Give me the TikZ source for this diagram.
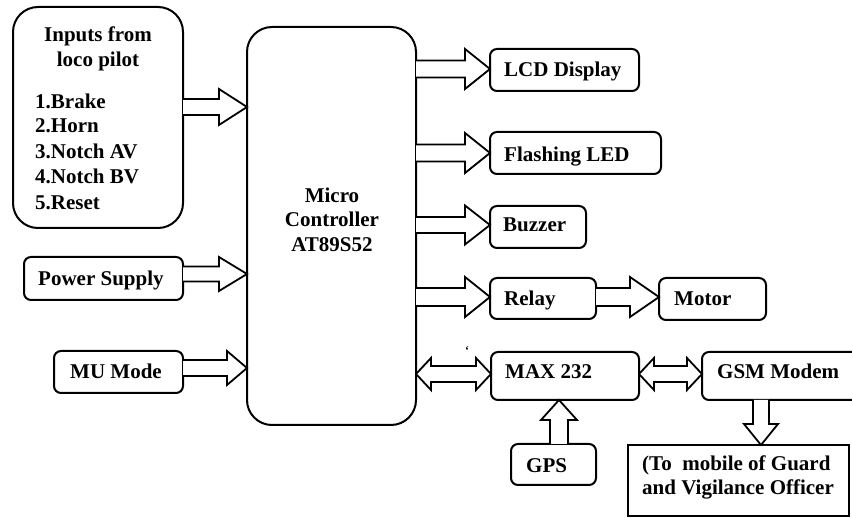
\documentclass[tikz,border=0pt]{standalone}
\usepackage{fontspec}
\setmainfont{Liberation Serif}
\usetikzlibrary{calc}
\tikzset{
  box/.style={draw, line width=2pt, rounded corners=7pt, outer sep=0pt, inner sep=0pt, fill=white},
  bigbox/.style={box, rounded corners=25pt},
  sqbox/.style={box, rounded corners=0pt},
  txt/.style={inner sep=0pt, anchor=base west, font=\bfseries\fontsize{21}{25}\selectfont},
  ctxt/.style={txt, anchor=base},
  arr/.style={draw, fill=white, line width=1.8pt, line join=miter},
}
% right block arrow: from node #1 to node #2 at y=#3, shaft half #4, head half #5, head length #6
\newcommand\rarr[6]{%
  \coordinate (ya) at (0,#3);
  \coordinate (S) at (#1.east |- ya);
  \coordinate (E) at (#2.west |- ya);
  \draw[arr] ($(S)+(0,-#4)$) -- ($(E)+(-#6,-#4)$) -- ($(E)+(-#6,-#5)$) -- (E)
    -- ($(E)+(-#6,#5)$) -- ($(E)+(-#6,#4)$) -- ($(S)+(0,#4)$);}
% horizontal double block arrow
\newcommand\harr[6]{%
  \coordinate (ya) at (0,#3);
  \coordinate (S) at (#1.east |- ya);
  \coordinate (E) at (#2.west |- ya);
  \draw[arr] (S) -- ($(S)+(#6,-#5)$) -- ($(S)+(#6,-#4)$) -- ($(E)+(-#6,-#4)$) -- ($(E)+(-#6,-#5)$)
    -- (E) -- ($(E)+(-#6,#5)$) -- ($(E)+(-#6,#4)$) -- ($(S)+(#6,#4)$) -- ($(S)+(#6,#5)$) -- cycle;}
% upward block arrow from node #1 (north) to node #2 (south) at x=#3
\newcommand\uarr[6]{%
  \coordinate (xa) at (#3,0);
  \coordinate (S) at (xa |- #1.north);
  \coordinate (E) at (xa |- #2.south);
  \draw[arr] ($(S)+(-#4,0)$) -- ($(E)+(-#4,#6)$) -- ($(E)+(-#5,#6)$) -- (E)
    -- ($(E)+(#5,#6)$) -- ($(E)+(#4,#6)$) -- ($(S)+(#4,0)$);}
% downward block arrow from node #1 (south) to node #2 (north) at x=#3
\newcommand\darr[6]{%
  \coordinate (xa) at (#3,0);
  \coordinate (S) at (xa |- #1.south);
  \coordinate (E) at (xa |- #2.north);
  \draw[arr] ($(S)+(-#4,0)$) -- ($(E)+(-#4,-#6)$) -- ($(E)+(-#5,-#6)$) -- (E)
    -- ($(E)+(#5,-#6)$) -- ($(E)+(#4,-#6)$) -- ($(S)+(#4,0)$);}
\begin{document}
\begin{tikzpicture}[x=1pt, y=-1pt]
\useasboundingbox (0,0) rectangle (852,518);
\clip (0,0) rectangle (852,518);
% boxes
\node[bigbox, minimum width=170pt, minimum height=221pt] (inp) at (98,117.5) {};
\node[bigbox, minimum width=169pt, minimum height=398pt] (mc) at (331.5,226) {};
\node[box, minimum width=159pt, minimum height=43pt] (pow) at (103.5,278.5) {};
\node[box, minimum width=129pt, minimum height=42pt] (mu) at (118.5,372) {};
\node[box, minimum width=149pt, minimum height=42pt] (lcd) at (564.5,70) {};
\node[box, minimum width=171pt, minimum height=42pt] (led) at (575.5,153) {};
\node[box, minimum width=96pt, minimum height=42pt] (buz) at (538,227) {};
\node[box, minimum width=106pt, minimum height=41pt] (rel) at (543,298.5) {};
\node[box, minimum width=107pt, minimum height=42pt] (mot) at (712.5,299) {};
\node[box, minimum width=148pt, minimum height=48pt] (max) at (565,376) {};
\node[box, minimum width=178pt, minimum height=48pt] (gsm) at (791,376) {};
\node[box, minimum width=85pt, minimum height=41pt] (gps) at (553.5,464.5) {};
\node[sqbox, minimum width=221pt, minimum height=71pt] (off) at (738.5,480.5) {};
% texts
\node[ctxt] (t1) at (98,42) {Inputs from};
\node[ctxt] (t2) at (98,67) {loco pilot};
\node[txt] (t3) at (35,109) {1.Brake};
\node[txt] (t4) at (35,133) {2.Horn};
\node[txt] (t5) at (35,159) {3.Notch AV};
\node[txt] (t6) at (35,184) {4.Notch BV};
\node[txt] (t7) at (35,210) {5.Reset};
\node[ctxt] (m1) at (332,203) {Micro};
\node[ctxt] (m2) at (332,227) {Controller};
\node[ctxt] (m3) at (332,252) {AT89S52};
\node[txt] (tp) at (38,286) {Power Supply};
\node[txt] (tm) at (70,379) {MU Mode};
\node[txt] (tl) at (504,77) {LCD Display};
\node[txt] (tf) at (504,162) {Flashing LED};
\node[txt] (tb) at (503,232) {Buzzer};
\node[txt] (tr) at (504,306) {Relay};
\node[txt] (to) at (674,306) {Motor};
\node[txt] (tx) at (505,379) {MAX 232};
\node[txt] (tg) at (717,379) {GSM Modem};
\node[txt] (ts) at (526,473) {GPS};
\node[txt] (o1) at (642,471) {(To\ \ mobile of Guard};
\node[txt] (o2) at (642,495) {and Vigilance Officer};
\node[inner sep=0pt, anchor=north, font=\bfseries\fontsize{12}{12}\selectfont] (q) at (467,346) {‘};
% arrows
\rarr{inp}{mc}{107}{8}{18}{28}
\rarr{pow}{mc}{274}{7.5}{17}{28}
\rarr{mu}{mc}{368}{8}{17}{20}
\rarr{mc}{lcd}{69}{8.5}{20}{25}
\rarr{mc}{led}{153}{8.5}{20}{25}
\rarr{mc}{buz}{225}{8}{19.5}{25}
\rarr{mc}{rel}{297}{9}{20}{25}
\rarr{rel}{mot}{297}{9}{20}{29}
\harr{mc}{max}{374}{8}{16}{15}
\harr{max}{gsm}{374}{8}{16}{15}
\uarr{gps}{max}{559}{9}{18}{20}
\darr{gsm}{off}{761}{8}{17}{21}
\end{tikzpicture}
\end{document}
